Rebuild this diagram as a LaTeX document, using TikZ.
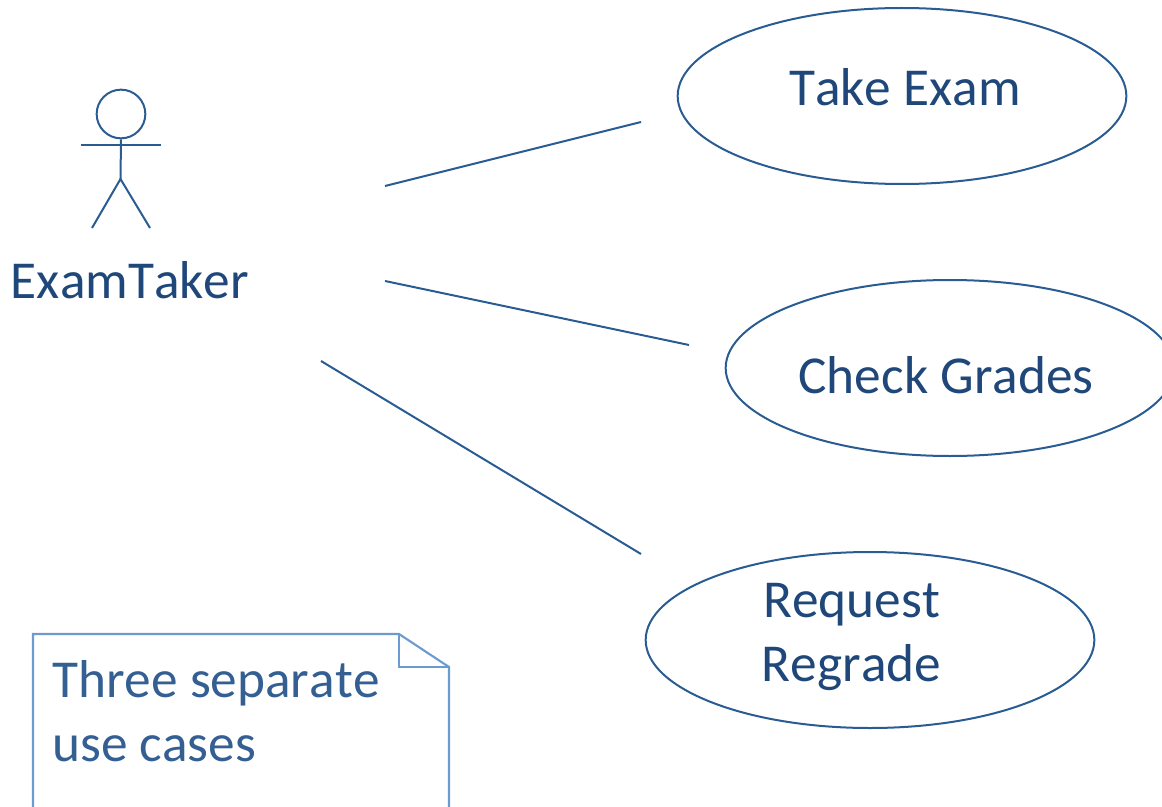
\documentclass[tikz,border=0pt]{standalone}
\usepackage{fontspec}
\setmainfont[Kerning=Off]{Carlito}
\usetikzlibrary{shapes.geometric}
\definecolor{ln}{HTML}{2A5C94}
\definecolor{tx}{HTML}{1F477A}
\definecolor{nt}{HTML}{6C9BCF}
\definecolor{nttx}{HTML}{345F93}
\tikzset{
 x=0.75pt,y=-0.75pt,
 uc/.style={ellipse,draw=ln,line width=1.5pt,inner sep=0pt,fill=none},
 lbl/.style={text=tx,font=\fontsize{40}{47.5}\selectfont,inner sep=0pt,align=center},
 conn/.style={draw=ln,line width=1.5pt},
 actor/.style={draw=ln,line width=1.5pt},
 notebox/.style={draw=nt,line width=1.6pt}
}
\begin{document}
\begin{tikzpicture}
\useasboundingbox (0,0) rectangle (1162,806);
\clip (0,0) rectangle (1162,806);
% use cases
\node[uc,minimum width=336.5pt,minimum height=132pt] (take) at (902,96) {};
\node[uc,minimum width=336.5pt,minimum height=132pt] (check) at (950,368) {};
\node[uc,minimum width=336.5pt,minimum height=132pt] (regrade) at (870,640) {};
\node[lbl] (takel) at (905,87) {Take Exam};
\node[lbl] (checkl) at (946,375) {Check Grades};
\node[lbl] (regl) at (851.5,637) {Request\\Regrade};
% actor
\node[circle,draw=ln,line width=1.5pt,minimum size=36.5pt,inner sep=0pt] (head) at (121,114) {};
\coordinate (hip) at (120.5,179);
\coordinate (ha) at (81,145);
\coordinate (hb) at (161,145);
\coordinate (fa) at (92,228);
\coordinate (fb) at (150,228);
\draw[actor] (head.south) -- (hip);
\draw[actor] (ha) -- (hb);
\draw[actor] (fa) -- (hip) -- (fb);
\node[lbl] (actorl) at (130,280) {ExamTaker};
% connectors
\coordinate (c1a) at (385,186);
\coordinate (c1b) at (641,122);
\coordinate (c2a) at (385,281);
\coordinate (c2b) at (689,345);
\coordinate (c3a) at (321,361);
\coordinate (c3b) at (641,554);
\draw[conn] (c1a) -- (c1b);
\draw[conn] (c2a) -- (c2b);
\draw[conn] (c3a) -- (c3b);
% note
\draw[notebox] (33,820) -- (33,634) -- (399,634) -- (449,667) -- (449,820);
\draw[notebox] (399,634) -- (399,667) -- (449,667);
\node[lbl,text=nttx,align=left,anchor=north west,font=\fontsize{40}{48}\selectfont] (note) at (52,660) {Three separate\\use cases};
\end{tikzpicture}
\end{document}
